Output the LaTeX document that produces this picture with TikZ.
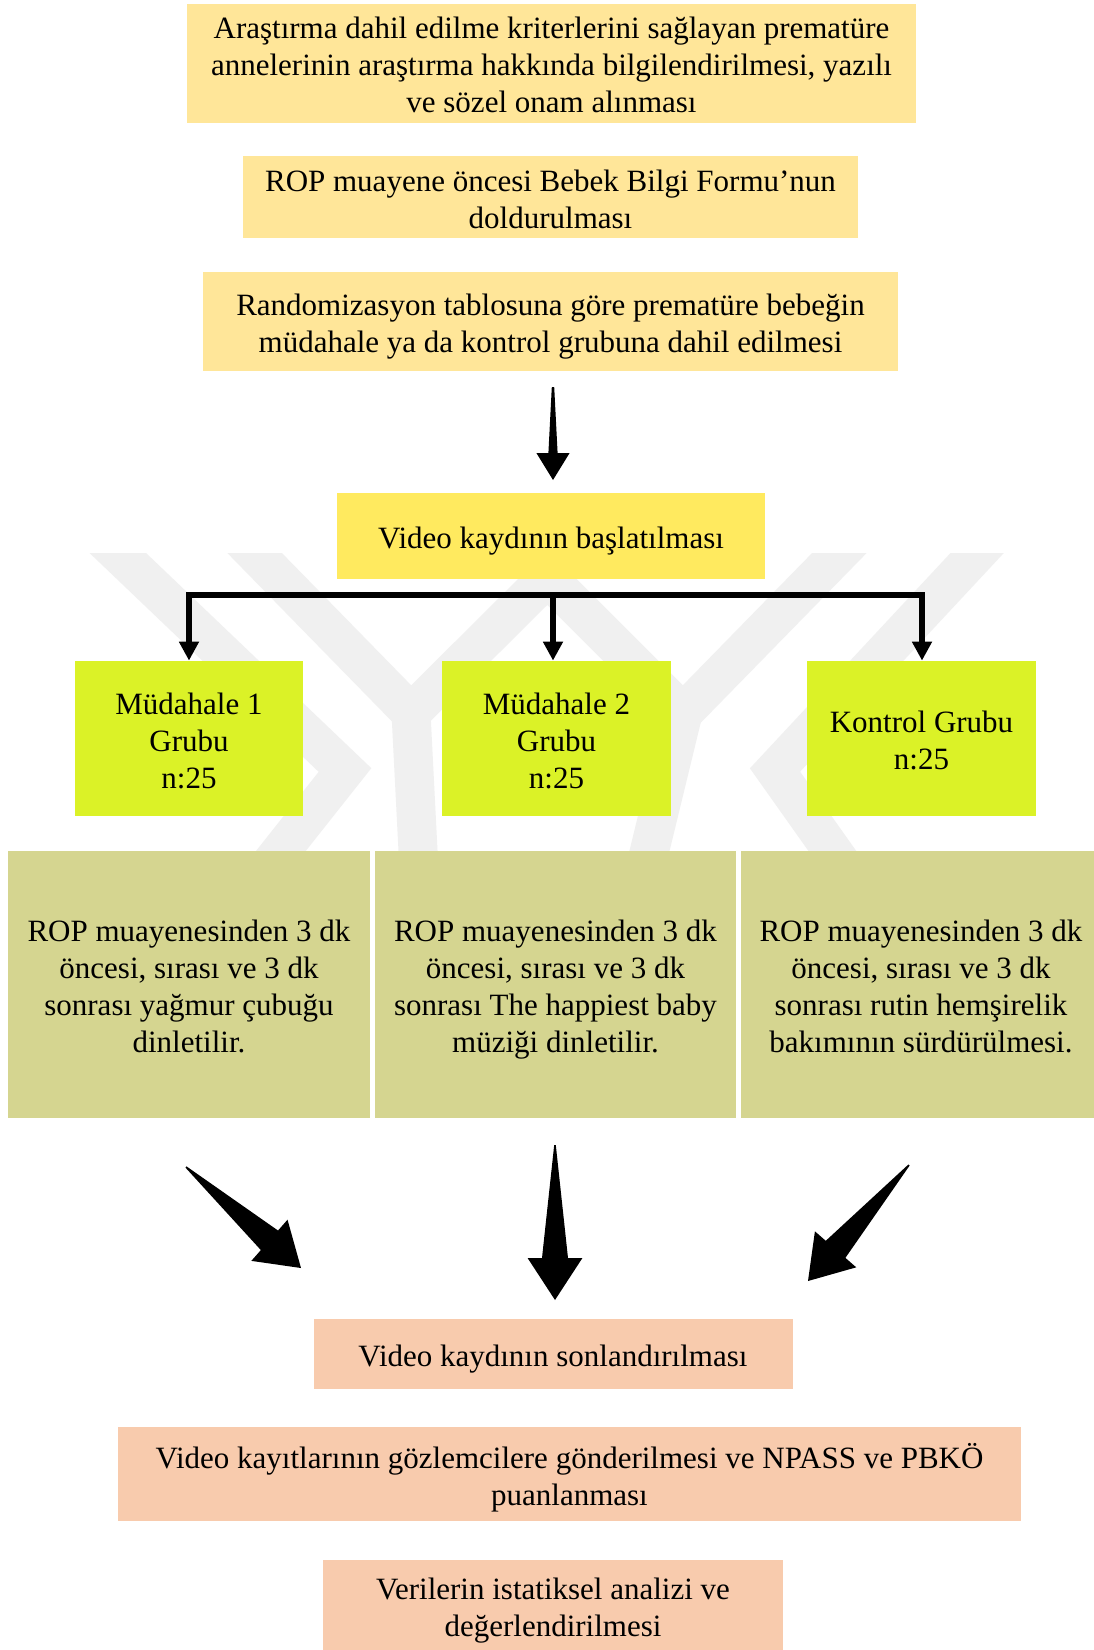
\documentclass[tikz,border=0pt]{standalone}
\usepackage{fontspec}
\setmainfont{Liberation Serif}
\usetikzlibrary{arrows.meta,calc}
\definecolor{ylw}{HTML}{FFE699}
\definecolor{vidy}{HTML}{FFEA5F}
\definecolor{grn}{HTML}{DBF227}
\definecolor{olv}{HTML}{D5D590}
\definecolor{pch}{HTML}{F8CBAD}
\definecolor{wm}{HTML}{F0F0F0}
\newcommand{\mystrut}{\rule[-5.5pt]{0pt}{18.5pt}}
\newcommand{\wedgearr}[6]{%
  \coordinate (wb) at ($(#2)!#6!(#1)$);
  \fill[black] ($(#1)!#3!90:(#2)$) -- ($(wb)!#4!90:(#2)$) -- ($(wb)!#5!90:(#2)$) -- (#2)
     -- ($(wb)!#5!-90:(#2)$) -- ($(wb)!#4!-90:(#2)$) -- ($(#1)!#3!-90:(#2)$) -- cycle;}
\newcommand{\boxtext}[3]{\node[box] (#1-t) at ($(#1.center)+(0,#2)$) {#3};}
\begin{document}
\begin{tikzpicture}[x=0.5pt,y=-0.5pt,
  box/.style={inner sep=0pt, align=center, font=\fontsize{15.5}{18.5}\selectfont,
    execute at begin node=\mystrut, execute at end node=\mystrut},
  brk/.style={line width=2.6pt},
  band/.style={wm, line width=19.5pt, line join=miter},
  >={Triangle[length=9.5pt,width=9.5pt]}]
\useasboundingbox[fill=white] (0,0) rectangle (1093,1650);
% watermark
\begin{scope}
\clip (0,553) rectangle (1093,851);
\draw[band] (100,536) -- (345,770) -- (250,890);
\draw[band] (238,536) -- (411,713) -- (595,530);
\draw[band] (411,713) -- (420,890);
\draw[band] (993,536) -- (775,770) -- (860,890);
\draw[band] (856,536) -- (683,713) -- (500,530);
\draw[band] (683,713) -- (640,890);
\end{scope}
% top boxes
\node[box, fill=ylw, minimum width=364.5pt, minimum height=59.5pt] (b1) at (551.5,63.5) {};
\boxtext{b1}{7}{Araştırma dahil edilme kriterlerini sağlayan prematüre\\annelerinin araştırma hakkında bilgilendirilmesi, yazılı\\ve sözel onam alınması}
\node[box, fill=ylw, minimum width=307.5pt, minimum height=41pt] (b2) at (550.5,197) {};
\boxtext{b2}{8}{ROP muayene öncesi Bebek Bilgi Formu’nun\\doldurulması}
\node[box, fill=ylw, minimum width=347.5pt, minimum height=49.5pt] (b3) at (550.5,321.5) {};
\boxtext{b3}{7}{Randomizasyon tablosuna göre prematüre bebeğin\\müdahale ya da kontrol grubuna dahil edilmesi}
\node[box, fill=vidy, minimum width=214pt, minimum height=43pt] (vid) at (551,536) {};
\boxtext{vid}{5}{Video kaydının başlatılması}
% groups
\node[box, fill=grn, minimum width=114pt, minimum height=77.5pt] (g1) at (189,738.5) {};
\boxtext{g1}{8}{Müdahale 1\\Grubu\\n:25}
\node[box, fill=grn, minimum width=114.5pt, minimum height=77.5pt] (g2) at (556.5,738.5) {};
\boxtext{g2}{8}{Müdahale 2\\Grubu\\n:25}
\node[box, fill=grn, minimum width=114.5pt, minimum height=77.5pt] (g3) at (921.5,738.5) {};
\boxtext{g3}{7}{Kontrol Grubu\\n:25}
\node[box, fill=olv, minimum width=181pt, minimum height=133.5pt] (o1) at (189,984.5) {};
\boxtext{o1}{7}{ROP muayenesinden 3 dk\\öncesi, sırası ve 3 dk\\sonrası yağmur çubuğu\\dinletilir.}
\node[box, fill=olv, minimum width=180.5pt, minimum height=133.5pt] (o2) at (555.5,984.5) {};
\boxtext{o2}{7}{ROP muayenesinden 3 dk\\öncesi, sırası ve 3 dk\\sonrası The happiest baby\\müziği dinletilir.}
\node[box, fill=olv, minimum width=180pt, minimum height=133.5pt] (o3) at (921,984.5) {};
\boxtext{o3}{7}{ROP muayenesinden 3 dk\\öncesi, sırası ve 3 dk\\sonrası rutin hemşirelik\\bakımının sürdürülmesi.}
% bottom boxes
\node[box, fill=pch, minimum width=239.5pt, minimum height=35pt] (p1) at (553,1354) {};
\boxtext{p1}{4.5}{Video kaydının sonlandırılması}
\node[box, fill=pch, minimum width=451.5pt, minimum height=47pt] (p2) at (569.5,1474) {};
\boxtext{p2}{5.5}{Video kayıtlarının gözlemcilere gönderilmesi ve NPASS ve PBKÖ\\puanlanması}
\node[box, fill=pch, minimum width=230pt, minimum height=45pt] (p3) at (553,1605) {};
\boxtext{p3}{8}{Verilerin istatiksel analizi ve\\değerlendirilmesi}
% top arrow
\coordinate (ta) at (553,387);
\coordinate (tb) at (553,480);
\wedgearr{ta}{tb}{0.6pt}{2.3pt}{8.3pt}{13.5pt}
% bracket
\coordinate (bl) at (189,595);
\coordinate (br) at (922,595);
\coordinate (bm) at (553,595);
\draw[brk,<->] (g1.north) -- (bl) -- (br) -- (br |- g3.north);
\draw[brk,->] (bm) -- (bm |- g2.north);
% bottom arrows
\coordinate (l1) at (186,1167); \coordinate (l2) at (301,1268);
\coordinate (m1) at (555,1145); \coordinate (m2) at (555,1300);
\coordinate (r1) at (909,1165); \coordinate (r2) at (808,1281);
\wedgearr{l1}{l2}{0.4pt}{6.5pt}{13.7pt}{21pt}
\wedgearr{m1}{m2}{0.4pt}{6.5pt}{13.7pt}{21pt}
\wedgearr{r1}{r2}{0.4pt}{6.5pt}{13.7pt}{21pt}
\end{tikzpicture}
\end{document}
